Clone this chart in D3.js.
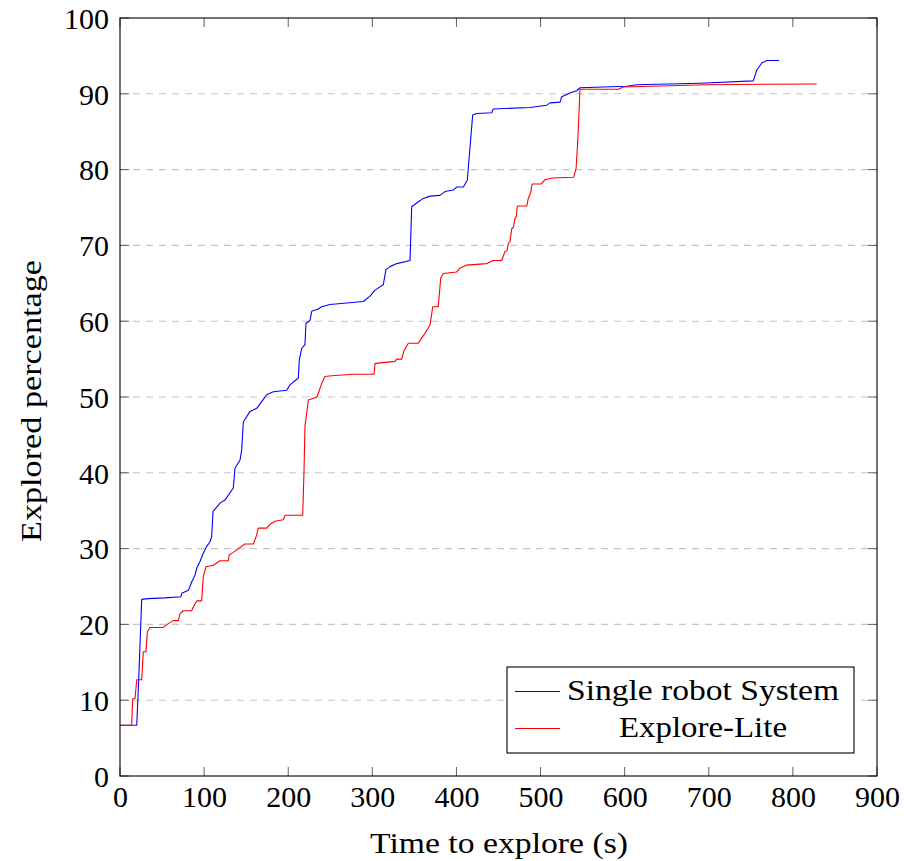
<!DOCTYPE html>
<html>
<head>
<meta charset="utf-8">
<script src="https://cdn.jsdelivr.net/npm/d3@7"></script>
<style>
html,body{margin:0;padding:0;background:#fff;}
svg text{font-family:"Liberation Serif","Times New Roman",serif;fill:#000;}
</style>
</head>
<body>
<svg id="chart" width="904" height="861"></svg>
<script>
// ---- data ----
const seriesNames = ["Single robot System", "Explore-Lite"];
const seriesColors = ["#0000ff", "#ff0000"];

const singleTime = [0,19.9,22,25.8,33,53.5,72.5,73.4,77.3,81.2,83.2,85.2,89.2,91.2,95.1,99.0,103.1,107.0,109.0,110.6,118.9,124.8,134.7,136.7,142.7,144.7,146.6,154.6,162.5,168.5,174.4,182.3,198.2,202.1,212.0,213.2,216.0,219.9,221.1,225.9,227.9,235.8,239.8,249.7,289.3,297.2,303.2,313.0,316.2,321.0,329.0,344.8,346.8,352.7,360.6,368.6,380.4,386.4,396.3,400.3,408.2,412.9,419.3,424.1,441.9,443.8,487.4,507.3,511.2,523.1,525.1,535.0,542.9,546.9,602.4,614.3,689.6,752.9,757.0,763.3,769.2,783.5];
const singleValue = [6.7,6.7,12,23.3,23.4,23.5,23.65,24.1,24.3,24.5,25.0,25.6,26.5,27.4,28.3,29.4,30.3,30.9,31.6,34.9,36.0,36.4,38.0,40.6,41.7,43.0,46.7,48.1,48.5,49.4,50.3,50.7,50.9,51.6,52.5,54.9,56.4,56.9,59.7,60.1,61.3,61.6,61.9,62.2,62.6,63.3,64.1,64.8,66.8,67.2,67.6,68.0,75.1,75.6,76.2,76.5,76.6,77.1,77.3,77.7,77.7,78.6,87.2,87.4,87.5,88.0,88.2,88.5,88.8,88.9,89.6,90.1,90.4,90.8,91.0,91.2,91.4,91.7,93.1,94.1,94.4,94.4];

const liteTime = [0,13.9,15.1,17.8,19.9,25.8,27.7,30.9,32.5,35.7,51.5,57.4,63.4,69.3,71.3,75.3,85.2,87.1,91.2,97.1,99.0,102.2,110.9,118.9,128.8,129.9,134.7,140.6,148.6,158.5,162.5,164.4,174.4,178.3,184.3,194.1,196.2,217.2,218.8,219.9,223.9,233.9,235.8,239.8,243.7,251.7,277.4,302.0,303.2,309.1,326.9,329.0,334.9,337.6,342.8,354.6,357.5,362.6,368.6,371.8,378.4,381.3,384.4,400.3,404.2,412.2,436.0,443.8,453.8,457.7,460.1,461.7,463.7,465.7,467.8,469.6,471.2,472.4,483.6,485.4,488.2,489.9,500.6,505.7,514.4,539.4,542.3,544.3,546.9,592.4,598.4,697.5,828.3];
const liteValue = [6.7,6.7,10.2,10.2,12.7,12.7,16.4,16.4,19.0,19.6,19.6,20.1,20.5,20.5,21.4,21.8,21.8,22.3,23.1,23.1,26.3,27.6,27.8,28.4,28.4,29.2,29.5,30.0,30.6,30.6,31.8,32.7,32.7,33.2,33.6,33.8,34.4,34.4,40.4,46.1,49.6,50.0,50.5,51.8,52.7,52.8,53.0,53.0,54.4,54.5,54.7,55.0,55.0,56.1,57.1,57.1,57.6,58.4,59.5,61.9,61.9,65.7,66.3,66.5,67.0,67.4,67.6,68.0,68.0,69.2,69.3,70.3,70.5,72.2,72.4,73.6,73.8,75.2,75.2,76.2,76.9,78.1,78.1,78.7,78.9,79.0,80.2,83.9,90.6,90.6,90.9,91.2,91.3];

const xTicks = [0,100,200,300,400,500,600,700,800,900];
const yTicks = [0,10,20,30,40,50,60,70,80,90,100];
const xLabel = "Time to explore (s)";
const yLabel = "Explored percentage";

// ---- layout ----
const svg = d3.select("#chart");
const L = 120, R = 877, T = 18, B = 776;
const x = d3.scaleLinear().domain([0, 900]).range([L, R]);
const y = d3.scaleLinear().domain([0, 100]).range([B, T]);
const FS = 30;

// grid
svg.append("g").selectAll("line").data(yTicks.filter(d => d > 0 && d < 100)).join("line")
  .attr("x1", L).attr("x2", R).attr("y1", d => y(d)).attr("y2", d => y(d))
  .attr("stroke", "#c4c4c4").attr("stroke-width", 1.1).attr("stroke-dasharray", "7,6");

// ticks (inward, all four sides)
const tl = 9;
const tg = svg.append("g").attr("stroke", "#606060").attr("stroke-width", 1);
xTicks.forEach(d => {
  tg.append("line").attr("x1", x(d)).attr("x2", x(d)).attr("y1", B).attr("y2", B - tl);
  tg.append("line").attr("x1", x(d)).attr("x2", x(d)).attr("y1", T).attr("y2", T + tl);
});
yTicks.forEach(d => {
  tg.append("line").attr("x1", L).attr("x2", L + tl).attr("y1", y(d)).attr("y2", y(d));
  tg.append("line").attr("x1", R).attr("x2", R - tl).attr("y1", y(d)).attr("y2", y(d));
});

// tick labels via d3 axes (tick lines hidden)
const xAxis = d3.axisBottom(x).tickValues(xTicks).tickSize(0).tickPadding(10).tickFormat(d3.format("d"));
const gx = svg.append("g").attr("transform", `translate(0,${B})`).call(xAxis);
gx.select(".domain").remove();
gx.selectAll("text").attr("font-size", FS).attr("font-family", "Liberation Serif").attr("dy", "0.71em").attr("y", 10);

const yAxis = d3.axisLeft(y).tickValues(yTicks).tickSize(0).tickPadding(11).tickFormat(d3.format("d"));
const gy = svg.append("g").attr("transform", `translate(${L},0)`).call(yAxis);
gy.select(".domain").remove();
gy.selectAll("text").attr("font-size", FS).attr("font-family", "Liberation Serif").attr("dy", "0.34em");

// lines
const seriesData = [
  singleTime.map((t, i) => [t, singleValue[i]]),
  liteTime.map((t, i) => [t, liteValue[i]])
];
const line = d3.line().x(d => x(d[0])).y(d => y(d[1]));
seriesData.forEach((s, i) => {
  svg.append("path").datum(s).attr("d", line)
    .attr("fill", "none").attr("stroke", seriesColors[i]).attr("stroke-width", 1.1)
    .attr("stroke-linejoin", "round");
});

// frame
svg.append("rect").attr("x", L).attr("y", T).attr("width", R - L).attr("height", B - T)
  .attr("fill", "none").attr("stroke", "#000").attr("stroke-width", 1.1);

// axis labels
svg.append("text").attr("x", 499).attr("y", 853).attr("text-anchor", "middle")
  .attr("font-size", FS).attr("textLength", 258).attr("lengthAdjust", "spacingAndGlyphs").text(xLabel);
svg.append("text").attr("transform", `translate(41,401) rotate(-90)`)
  .attr("text-anchor", "middle").attr("font-size", FS)
  .attr("textLength", 282).attr("lengthAdjust", "spacingAndGlyphs").text(yLabel);

// legend
const lg = svg.append("g");
lg.append("rect").attr("x", 507).attr("y", 667).attr("width", 347).attr("height", 86)
  .attr("fill", "#fff").attr("stroke", "#000").attr("stroke-width", 1.1);
const rowsY = [691.5, 728.5];
const textW = [272, 168];
seriesNames.forEach((n, i) => {
  lg.append("line").attr("x1", 515).attr("x2", 560).attr("y1", rowsY[i]).attr("y2", rowsY[i])
    .attr("stroke", seriesColors[i]).attr("stroke-width", 1.1);
  lg.append("text").attr("x", 703).attr("y", rowsY[i] + 8).attr("text-anchor", "middle")
    .attr("font-size", FS).attr("textLength", textW[i]).attr("lengthAdjust", "spacingAndGlyphs").text(n);
});
</script>
</body>
</html>
